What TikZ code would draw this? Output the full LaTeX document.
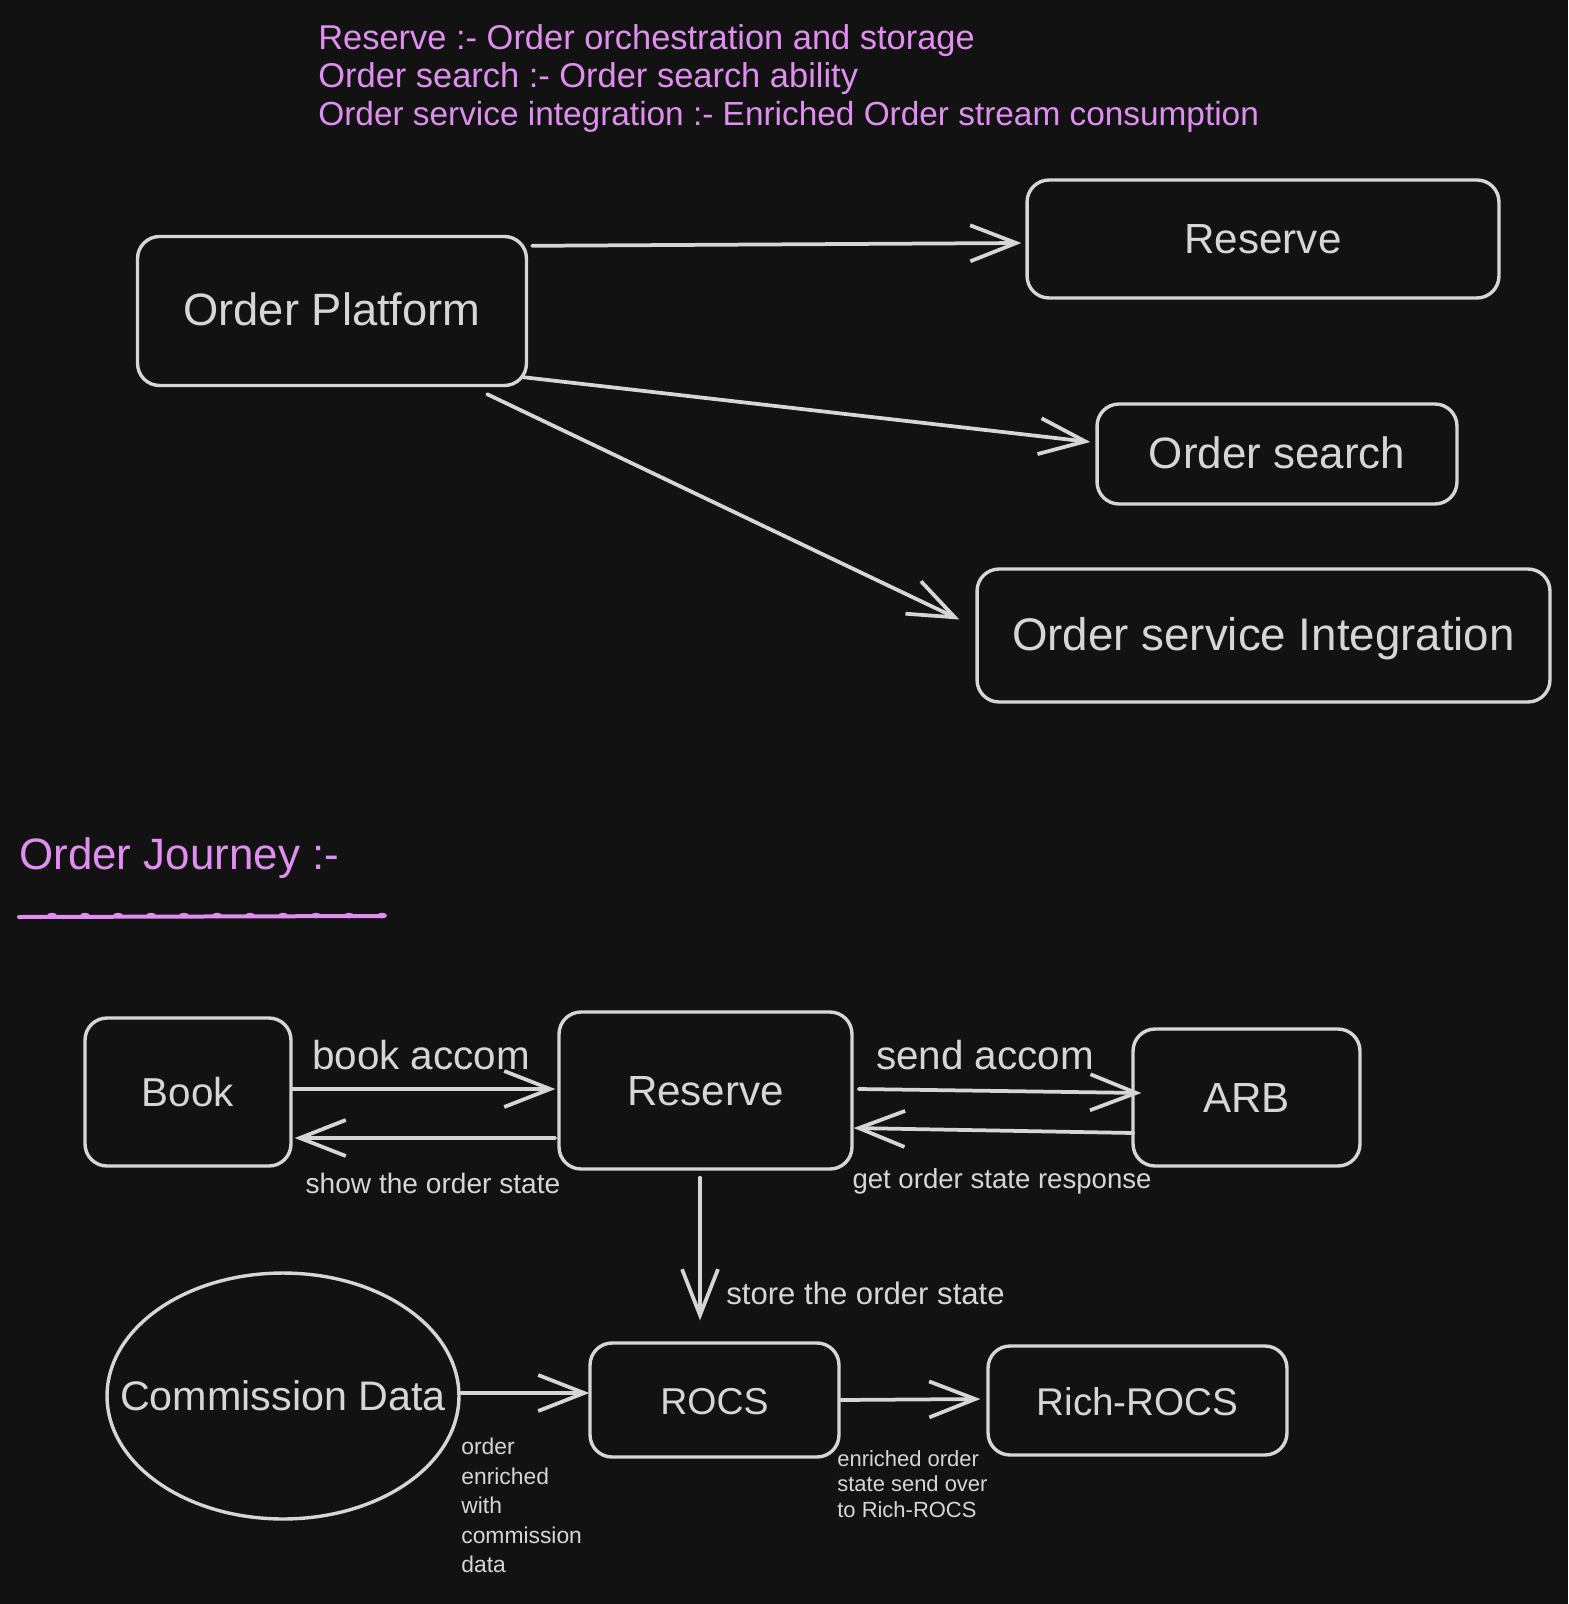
\documentclass[tikz,border=0pt]{standalone}
\usepackage{fontspec}
\setmainfont{Liberation Sans}
\usepackage{xcolor}
\usepackage{tikz}
\usetikzlibrary{shapes.geometric,positioning,calc,arrows.meta}
\definecolor{canvas}{HTML}{121212}
\definecolor{ink}{HTML}{D6D6D6}
\definecolor{violetnote}{HTML}{E08FF0}

\begin{document}
\begin{tikzpicture}[x=0.02cm, y=-0.02cm,
    box/.style={draw=ink, line width=0.068cm, rounded corners=0.44cm, text=ink,
        font=\fontsize{24}{28}\selectfont, text height=17pt, text depth=0pt, inner sep=0pt},
    flow/.style={draw=ink, line width=0.075cm, line cap=round, line join=round,
        -{Straight Barb[length=0.92cm,width=0.72cm]}},
    tag/.style={text=ink, inner sep=0pt, font=\fontsize{23}{27}\selectfont},
    note/.style={text=ink, inner sep=0pt, font=\fontsize{16}{19}\selectfont},
    ]
    \fill[canvas] (0,0) rectangle (1568,1604);
    \useasboundingbox (0,0) rectangle (1568,1604);

    % legend
    \node[anchor=north west, align=left, inner sep=0pt, text=violetnote,
        font=\fontsize{19}{21.6}\selectfont] (legend) at (318,24)
        {\fontsize{19.6}{21.6}\selectfont Reserve :- Order orchestration and storage\\
         \fontsize{19.6}{21.6}\selectfont Order search :- Order search ability\\
         Order service integration :- Enriched Order stream consumption};

    % platform overview
    \node[box, minimum width=7.78cm, minimum height=2.98cm, font=\fontsize{25.8}{30}\selectfont] (op) at (332,311) {Order Platform};
    \node[box, minimum width=9.44cm, minimum height=2.36cm] (res1) at (1263,239) {Reserve};
    \node[box, minimum width=7.2cm, minimum height=2cm, font=\fontsize{25}{30}\selectfont] (osearch) at (1277,454) {Order search};
    \node[box, minimum width=11.46cm, minimum height=2.66cm, font=\fontsize{26}{30}\selectfont] (osi) at (1263.5,635.5) {Order service Integration};

    \draw[flow] ($(op.north east)+(4,11)$) -- ($(res1.west)+(-4,4)$);
    \draw[flow] ($(op.south east)+(-5,-10)$) -- ($(osearch.west)+(-5,-12)$);
    \draw[flow] ($(op.south east)+(-41,7)$) -- ($(osi.west)+(-16,-16)$);

    % order journey
    \node[anchor=base west, inner sep=0pt, text=violetnote,
        font=\fontsize{25}{30}\selectfont] (journey) at (19,869) {Order Journey :-};
    \draw[violetnote, line width=0.08cm, line cap=round] (19,917) -- (384,916);
    \foreach \k in {0,...,10}
        \fill[violetnote] (52+33*\k,915.5) ellipse[x radius=0.1cm, y radius=0.055cm];

    \node[box, minimum width=4.12cm, minimum height=2.96cm, font=\fontsize{23}{28}\selectfont] (book) at (188,1092) {Book};
    \node[box, minimum width=5.86cm, minimum height=3.14cm] (res2) at (705.5,1090.5) {Reserve};
    \node[box, minimum width=4.54cm, minimum height=2.74cm] (arb) at (1246.5,1097.5) {ARB};
    \node[draw=ink, line width=0.068cm, ellipse, minimum width=7.04cm, minimum height=4.92cm] (comm) at (283,1396) {};
    \node[tag, font=\fontsize{23.5}{28}\selectfont] (commtext) at (comm.center) {Commission Data};
    \node[box, minimum width=4.98cm, minimum height=2.28cm, font=\fontsize{21.3}{26}\selectfont] (rocs) at (714.5,1400) {ROCS};
    \node[box, minimum width=5.98cm, minimum height=2.18cm, font=\fontsize{22}{26}\selectfont] (rich) at (1137.5,1400.5) {Rich-ROCS};

    \draw[flow] ($(book.east)+(0,-3)$) -- ($(res2.west)+(-2,-1.5)$);
    \draw[flow] ($(res2.west)+(-2,47.5)$) -- ($(book.east)+(2,46)$);
    \draw[flow] ($(res2.east)+(5,-1.5)$) -- ($(arb.west)+(10,-4.5)$);
    \draw[flow] ($(arb.west)+(2,35.5)$) -- ($(res2.east)+(0,37.5)$);
    \draw[flow] ($(res2.south)+(-5.5,7)$) -- ($(rocs.north)+(-14.5,-21)$);
    \draw[flow] ($(comm.east)+(1,-3)$) -- ($(rocs.west)+(1,-7)$);
    \draw[flow] (rocs.east) -- ($(rich.west)+(-6,-1.5)$);

    \node[tag] (bookaccom) at (421,1055) {book accom};
    \node[tag] (sendaccom) at (985,1055) {send accom};
    \node[note] (showstate) at (433,1183) {show the order state};
    \node[note, font=\fontsize{15.7}{19}\selectfont] (getstate) at (1002,1181) {get order state response};
    \node[note, anchor=west, font=\fontsize{17.7}{21}\selectfont] (storestate) at (726,1293.5) {store the order state};
    \node[note, anchor=north west, align=left, font=\fontsize{13}{16.8}\selectfont] (enrichnote) at (461,1438)
        {order\\enriched\\with\\commission\\data};
    \node[note, anchor=north west, align=left, font=\fontsize{12.5}{14.5}\selectfont] (sendnote) at (837,1450)
        {enriched order\\state send over\\to Rich-ROCS};
\end{tikzpicture}
\end{document}
